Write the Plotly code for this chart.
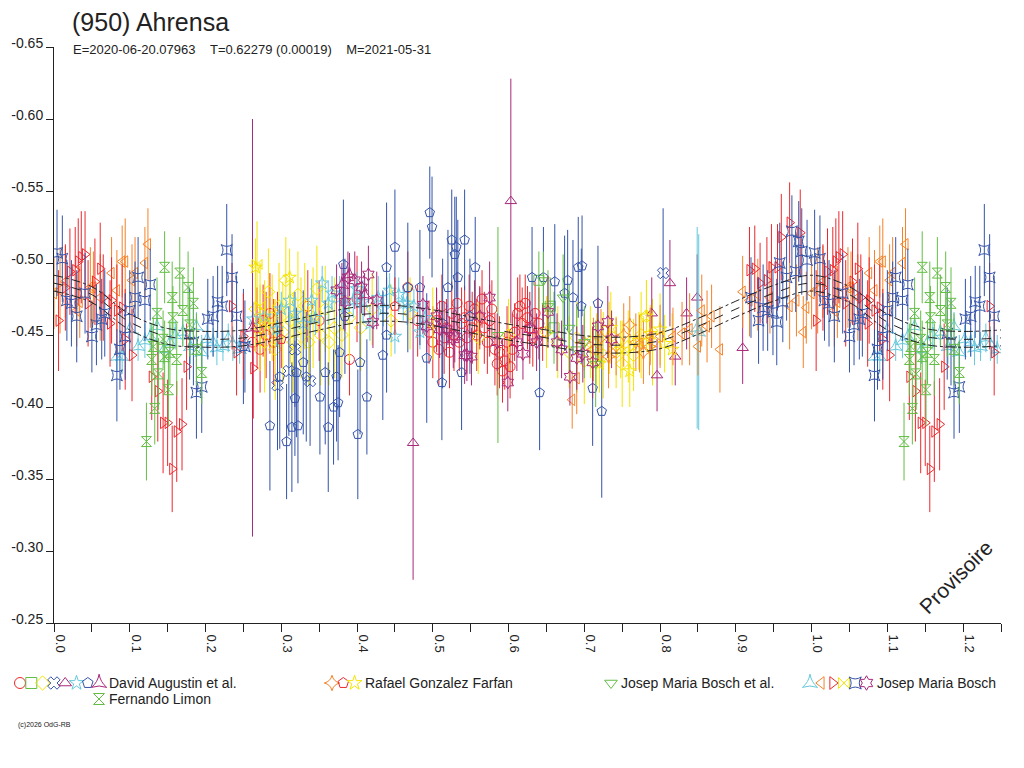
import plotly.graph_objects as go

RED = '#eb282d'
GREEN = '#64be46'
YELLOW = '#f5e400'
BLUE = '#3453a8'
PURPLE = '#a8287a'
CYAN = '#66c8dc'
ORANGE = '#f58228'
INK = '#222222'
FONT = 'Liberation Sans, Arial, sans-serif'

# fitted curve
curve_phase = [0.00, 0.05, 0.10, 0.15, 0.20, 0.25, 0.30, 0.35, 0.40, 0.45, 0.50, 0.55, 0.60,
               0.65, 0.70, 0.75, 0.80, 0.85, 0.90, 0.95, 1.00, 1.05, 1.10, 1.15, 1.20, 1.25]
curve_mid = [-0.486, -0.478, -0.459, -0.449, -0.447, -0.448, -0.453, -0.459, -0.464, -0.465, -0.462,
             -0.457, -0.452, -0.448, -0.444, -0.443, -0.446, -0.456, -0.468, -0.479, -0.486, -0.478,
             -0.459, -0.449, -0.447, -0.448]
curve_hi = [-0.4915, -0.4835, -0.4645, -0.4545, -0.4525, -0.4535, -0.4585, -0.4645, -0.4695, -0.4705,
            -0.4675, -0.4625, -0.4575, -0.4535, -0.4495, -0.4485, -0.4515, -0.4615, -0.4735, -0.4845,
            -0.4915, -0.4835, -0.4645, -0.4545, -0.4525, -0.4535]
curve_lo = [-0.4805, -0.4725, -0.4535, -0.4435, -0.4415, -0.4425, -0.4475, -0.4535, -0.4585, -0.4595,
            -0.4565, -0.4515, -0.4465, -0.4425, -0.4385, -0.4375, -0.4405, -0.4505, -0.4625, -0.4735,
            -0.4805, -0.4725, -0.4535, -0.4435, -0.4415, -0.4425]

# ---- David Augustin et al.
da_red_ph = [0.262, 0.268, 0.272, 0.276, 0.280, 0.285, 0.290, 0.295, 0.335, 0.350, 0.390, 0.400, 0.467,
             0.480, 0.495, 0.500, 0.505, 0.508, 0.512, 0.515, 0.518, 0.522, 0.525, 0.528, 0.532, 0.535,
             0.538, 0.542, 0.545, 0.548, 0.552, 0.555, 0.558, 0.562, 0.565, 0.568, 0.572, 0.575, 0.578,
             0.582, 0.585, 0.588, 0.592, 0.595, 0.598, 0.602, 0.605, 0.608, 0.612, 0.615, 0.618, 0.622,
             0.625, 0.628, 0.632, 0.635, 0.640, 0.645]
da_red_mag = [-0.445, -0.455, -0.440, -0.460, -0.450, -0.465, -0.445, -0.455, -0.470, -0.460, -0.433,
              -0.475, -0.483, -0.460, -0.452, -0.445, -0.460, -0.440, -0.470, -0.448, -0.455, -0.438,
              -0.465, -0.450, -0.472, -0.445, -0.458, -0.462, -0.448, -0.470, -0.455, -0.468, -0.450,
              -0.462, -0.475, -0.455, -0.445, -0.460, -0.468, -0.440, -0.430, -0.438, -0.425, -0.432,
              -0.445, -0.428, -0.440, -0.452, -0.465, -0.470, -0.458, -0.472, -0.462, -0.455, -0.448,
              -0.465, -0.458, -0.452]
da_red_err = [0.03, 0.028, 0.03, 0.025, 0.03, 0.028, 0.03, 0.025, 0.025, 0.028, 0.025, 0.03, 0.025,
              0.025, 0.022, 0.025, 0.022, 0.025, 0.022, 0.025, 0.02, 0.025, 0.022, 0.025, 0.022, 0.02,
              0.025, 0.022, 0.025, 0.022, 0.025, 0.02, 0.025, 0.022, 0.02, 0.025, 0.022, 0.025, 0.02,
              0.025, 0.022, 0.025, 0.022, 0.02, 0.025, 0.022, 0.025, 0.02, 0.025, 0.022, 0.025, 0.02,
              0.022, 0.025, 0.02, 0.022, 0.025, 0.02]

da_green_ph = [0.640, 0.655, 0.660]
da_green_mag = [-0.488, -0.470, -0.455]
da_green_err = [0.02, 0.02, 0.025]

da_yellow_ph = [0.266, 0.272, 0.278, 0.283, 0.288, 0.292, 0.297, 0.302, 0.306, 0.312, 0.316, 0.322,
                0.326, 0.331, 0.336, 0.342, 0.347, 0.352, 0.358, 0.363, 0.370, 0.380, 0.390, 0.405,
                0.420, 0.445, 0.470, 0.500, 0.560, 0.600, 0.650, 0.665, 0.680, 0.690, 0.700, 0.708,
                0.716, 0.725, 0.733, 0.742, 0.750, 0.758, 0.765, 0.775, 0.782, 0.790]
da_yellow_mag = [-0.468, -0.455, -0.445, -0.480, -0.462, -0.440, -0.470, -0.452, -0.488, -0.460, -0.445,
                 -0.478, -0.455, -0.470, -0.445, -0.462, -0.482, -0.450, -0.468, -0.445, -0.455, -0.450,
                 -0.462, -0.455, -0.468, -0.460, -0.465, -0.458, -0.448, -0.450, -0.452, -0.445, -0.438,
                 -0.448, -0.432, -0.445, -0.440, -0.436, -0.448, -0.438, -0.430, -0.442, -0.436, -0.450,
                 -0.463, -0.445]
da_yellow_err = [0.03, 0.03, 0.035, 0.03, 0.03, 0.035, 0.03, 0.035, 0.03, 0.03, 0.035, 0.03, 0.035,
                 0.03, 0.03, 0.035, 0.03, 0.035, 0.03, 0.03, 0.035, 0.03, 0.03, 0.03, 0.025, 0.025,
                 0.025, 0.025, 0.025, 0.025, 0.025, 0.025, 0.025, 0.025, 0.03, 0.025, 0.025, 0.03,
                 0.025, 0.025, 0.03, 0.025, 0.025, 0.03, 0.025, 0.03]

da_bluex_ph = [0.295, 0.310, 0.318, 0.338, 0.804]
da_bluex_mag = [-0.415, -0.425, -0.440, -0.418, -0.493]
da_bluex_err = [0.045, 0.045, 0.04, 0.045, 0.045]

da_tri_ph = [0.474, 0.603, 0.789, 0.796, 0.813, 0.820, 0.835, 0.849, 0.909]
da_tri_mag = [-0.375, -0.543, -0.465, -0.422, -0.486, -0.435, -0.465, -0.476, -0.441]
da_tri_err = [0.095, 0.085, 0.025, 0.025, 0.03, 0.02, 0.025, 0.03, 0.025]

da_cyan_ph = [0.263, 0.278, 0.294, 0.300, 0.311, 0.318, 0.329, 0.340, 0.345, 0.354, 0.362, 0.367,
              0.377, 0.385, 0.395, 0.400, 0.408, 0.417, 0.428, 0.435, 0.443, 0.450, 0.455, 0.461,
              0.466, 0.475, 0.483, 0.490]
da_cyan_mag = [-0.461, -0.463, -0.454, -0.468, -0.474, -0.465, -0.458, -0.474, -0.462, -0.486, -0.472,
               -0.479, -0.476, -0.470, -0.474, -0.482, -0.473, -0.458, -0.476, -0.468, -0.481, -0.449,
               -0.478, -0.472, -0.472, -0.470, -0.452, -0.462]
da_cyan_err = [0.012, 0.012, 0.012, 0.012, 0.015, 0.012, 0.012, 0.015, 0.012, 0.012, 0.015, 0.012,
               0.015, 0.012, 0.012, 0.012, 0.015, 0.012, 0.015, 0.012, 0.012, 0.012, 0.012, 0.012,
               0.015, 0.012, 0.012, 0.012]

da_pent_ph = [0.250, 0.285, 0.298, 0.307, 0.314, 0.318, 0.320, 0.322, 0.329, 0.333, 0.351, 0.358,
              0.362, 0.369, 0.373, 0.375, 0.377, 0.382, 0.384, 0.401, 0.404, 0.413, 0.434, 0.439,
              0.439, 0.450, 0.467, 0.483, 0.492, 0.496, 0.499, 0.512, 0.513, 0.520, 0.525, 0.529,
              0.531, 0.533, 0.538, 0.542, 0.549, 0.556, 0.631, 0.641, 0.646, 0.661, 0.674, 0.678,
              0.685, 0.692, 0.696, 0.697, 0.711, 0.718, 0.723]
da_pent_mag = [-0.442, -0.387, -0.421, -0.376, -0.386, -0.406, -0.424, -0.387, -0.431, -0.421, -0.407,
               -0.424, -0.386, -0.400, -0.421, -0.403, -0.438, -0.499, -0.463, -0.381, -0.431, -0.407,
               -0.436, -0.450, -0.497, -0.511, -0.483, -0.483, -0.434, -0.535, -0.525, -0.417, -0.458,
               -0.483, -0.516, -0.506, -0.511, -0.490, -0.424, -0.516, -0.463, -0.497, -0.490, -0.410,
               -0.490, -0.487, -0.479, -0.488, -0.476, -0.497, -0.470, -0.498, -0.413, -0.472, -0.397]
da_pent_err = [0.04, 0.045, 0.05, 0.04, 0.045, 0.04, 0.045, 0.04, 0.05, 0.045, 0.04, 0.05, 0.045,
               0.04, 0.045, 0.04, 0.045, 0.045, 0.04, 0.045, 0.05, 0.04, 0.045, 0.04, 0.045, 0.04,
               0.045, 0.04, 0.045, 0.032, 0.035, 0.04, 0.045, 0.04, 0.035, 0.04, 0.035, 0.04, 0.04,
               0.035, 0.04, 0.035, 0.035, 0.04, 0.035, 0.04, 0.04, 0.035, 0.04, 0.035, 0.04, 0.035,
               0.04, 0.04, 0.06]

da_tree_ph = [0.262, 0.380, 0.390, 0.410]
da_tree_mag = [-0.455, -0.485, -0.492, -0.478]
da_tree_err = [0.145, 0.015, 0.015, 0.015]

# ---- Fernando Limon
fl_ph = [0.122, 0.129, 0.131, 0.133, 0.136, 0.138, 0.144, 0.146, 0.146, 0.151, 0.153, 0.156, 0.157,
         0.162, 0.166, 0.170, 0.177, 0.179, 0.184, 0.188, 0.195]
fl_mag = [-0.376, -0.433, -0.442, -0.399, -0.465, -0.423, -0.447, -0.435, -0.497, -0.412, -0.438,
          -0.476, -0.462, -0.433, -0.493, -0.467, -0.483, -0.457, -0.472, -0.440, -0.424]
fl_err = [0.027, 0.025, 0.02, 0.025, 0.025, 0.025, 0.02, 0.025, 0.025, 0.025, 0.022, 0.025, 0.022,
          0.025, 0.025, 0.025, 0.025, 0.022, 0.025, 0.025, 0.022]

# ---- Rafael Gonzalez Farfan
rg_orange_ph = [0.700, 0.712, 0.722, 0.732, 0.742, 0.752, 0.760, 0.768, 0.778, 0.786]
rg_orange_mag = [-0.445, -0.440, -0.448, -0.435, -0.442, -0.450, -0.457, -0.445, -0.438, -0.442]
rg_orange_err = [0.02, 0.022, 0.02, 0.022, 0.02, 0.022, 0.02, 0.02, 0.022, 0.02]

rg_red_ph = [0.300, 0.450]
rg_red_mag = [-0.447, -0.470]
rg_red_err = [0.02, 0.02]

rg_yellow_ph = [0.266, 0.311, 0.720, 0.735, 0.748, 0.760, 0.772, 0.782, 0.787, 0.800, 0.806, 0.816]
rg_yellow_mag = [-0.497, -0.490, -0.430, -0.455, -0.440, -0.425, -0.446, -0.463, -0.451, -0.454,
                 -0.444, -0.440]
rg_yellow_err = [0.02, 0.02, 0.02, 0.025, 0.02, 0.025, 0.02, 0.025, 0.02, 0.025, 0.02, 0.025]

# ---- Josep Maria Bosch et al.
jbe_ph = [0.586, 0.646, 0.652, 0.672, 0.680, 0.690, 0.700, 0.715]
jbe_mag = [-0.450, -0.488, -0.470, -0.476, -0.455, -0.440, -0.445, -0.430]
jbe_err = [0.075, 0.02, 0.025, 0.03, 0.03, 0.03, 0.025, 0.03]

# ---- Josep Maria Bosch
jb_cyan_ph = [0.083, 0.090, 0.100, 0.111, 0.120, 0.127, 0.136, 0.145, 0.153, 0.160, 0.170, 0.180,
              0.188, 0.195, 0.202, 0.210, 0.215, 0.223, 0.230, 0.236, 0.245, 0.250, 0.849, 0.851]
jb_cyan_mag = [-0.435, -0.435, -0.454, -0.442, -0.446, -0.449, -0.456, -0.440, -0.445, -0.450, -0.452,
               -0.442, -0.456, -0.438, -0.447, -0.445, -0.441, -0.442, -0.448, -0.444, -0.440, -0.447,
               -0.455, -0.452]
jb_cyan_err = [0.01, 0.012, 0.01, 0.01, 0.012, 0.01, 0.012, 0.01, 0.012, 0.01, 0.01, 0.012, 0.01,
               0.012, 0.01, 0.01, 0.012, 0.01, 0.01, 0.012, 0.01, 0.012, 0.07, 0.068]

jb_orange_ph = [0.684, 0.690, 0.773, 0.787, 0.800, 0.817, 0.829, 0.839, 0.850, 0.855, 0.862, 0.868,
                0.879, 0.909, 0.918, 0.929, 0.945, 0.971, 0.980, 0.989, 0.993, 0.000, 0.008, 0.015,
                0.030, 0.034, 0.048, 0.052, 0.061, 0.076, 0.083, 0.090, 0.094, 0.103, 0.107, 0.120,
                0.124]
jb_orange_mag = [-0.405, -0.420, -0.444, -0.449, -0.449, -0.449, -0.451, -0.454, -0.442, -0.467, -0.456,
                 -0.463, -0.440, -0.480, -0.474, -0.478, -0.476, -0.470, -0.474, -0.452, -0.469, -0.479,
                 -0.481, -0.487, -0.467, -0.473, -0.483, -0.483, -0.476, -0.493, -0.481, -0.501, -0.501,
                 -0.488, -0.493, -0.500, -0.513]
jb_orange_err = [0.02, 0.025, 0.02, 0.02, 0.022, 0.02, 0.022, 0.025, 0.02, 0.025, 0.025, 0.022, 0.03,
                 0.025, 0.025, 0.025, 0.025, 0.03, 0.025, 0.025, 0.025, 0.025, 0.03, 0.025, 0.025,
                 0.025, 0.028, 0.025, 0.03, 0.025, 0.028, 0.025, 0.03, 0.025, 0.025, 0.025, 0.025]

jb_red_ph = [0.918, 0.925, 0.932, 0.941, 0.947, 0.955, 0.960, 0.971, 0.985, 0.006, 0.015, 0.021,
             0.028, 0.032, 0.036, 0.041, 0.045, 0.054, 0.061, 0.065, 0.074, 0.076, 0.083, 0.090,
             0.094, 0.103, 0.129, 0.137, 0.144, 0.150, 0.156, 0.162, 0.169, 0.175, 0.235, 0.241,
             0.250, 0.263]
jb_red_mag = [-0.495, -0.496, -0.486, -0.488, -0.497, -0.497, -0.518, -0.528, -0.521, -0.460, -0.483,
              -0.494, -0.495, -0.501, -0.504, -0.506, -0.472, -0.487, -0.496, -0.476, -0.458, -0.474,
              -0.467, -0.469, -0.447, -0.436, -0.421, -0.411, -0.389, -0.389, -0.357, -0.383, -0.388,
              -0.428, -0.470, -0.438, -0.449, -0.427]
jb_red_err = [0.03, 0.03, 0.028, 0.03, 0.03, 0.03, 0.03, 0.028, 0.03, 0.035, 0.03, 0.03, 0.03, 0.03,
              0.032, 0.03, 0.03, 0.03, 0.032, 0.03, 0.03, 0.03, 0.032, 0.03, 0.035, 0.032, 0.03, 0.035,
              0.035, 0.03, 0.03, 0.035, 0.032, 0.03, 0.03, 0.03, 0.03, 0.035]

jb_yellow_ph = [0.268, 0.272, 0.278]
jb_yellow_mag = [-0.499, -0.470, -0.458]
jb_yellow_err = [0.03, 0.03, 0.03]

jb_blue_ph = [0.920, 0.930, 0.936, 0.942, 0.949, 0.954, 0.958, 0.962, 0.967, 0.974, 0.979, 0.983,
              0.987, 0.994, 0.004, 0.011, 0.017, 0.023, 0.030, 0.041, 0.050, 0.056, 0.063, 0.067,
              0.083, 0.087, 0.094, 0.100, 0.107, 0.111, 0.120, 0.127, 0.179, 0.184, 0.188, 0.195,
              0.203, 0.210, 0.216, 0.222, 0.228, 0.235, 0.241, 0.252]
jb_blue_mag = [-0.476, -0.460, -0.469, -0.467, -0.466, -0.459, -0.500, -0.473, -0.490, -0.522, -0.494,
               -0.515, -0.508, -0.502, -0.507, -0.503, -0.474, -0.472, -0.463, -0.479, -0.449, -0.457,
               -0.461, -0.465, -0.422, -0.440, -0.449, -0.467, -0.476, -0.490, -0.474, -0.485, -0.451,
               -0.445, -0.410, -0.414, -0.461, -0.463, -0.473, -0.470, -0.509, -0.490, -0.463, -0.442]
jb_blue_err = [0.028, 0.03, 0.03, 0.028, 0.03, 0.03, 0.028, 0.028, 0.03, 0.025, 0.028, 0.028, 0.03,
               0.028, 0.03, 0.03, 0.028, 0.03, 0.032, 0.028, 0.025, 0.028, 0.028, 0.03, 0.032, 0.028,
               0.03, 0.028, 0.025, 0.028, 0.028, 0.025, 0.032, 0.03, 0.032, 0.032, 0.028, 0.028, 0.025,
               0.028, 0.032, 0.03, 0.028, 0.032]

jb_purple_ph = [0.373, 0.384, 0.388, 0.397, 0.406, 0.415, 0.421, 0.426, 0.487, 0.492, 0.505, 0.509,
                0.518, 0.527, 0.529, 0.542, 0.545, 0.551, 0.562, 0.575, 0.585, 0.599, 0.611, 0.619,
                0.628, 0.637, 0.652, 0.664, 0.670, 0.681, 0.690, 0.698, 0.711, 0.718, 0.731, 0.736]
jb_purple_mag = [-0.481, -0.473, -0.490, -0.488, -0.483, -0.492, -0.459, -0.474, -0.471, -0.456, -0.463,
                 -0.454, -0.454, -0.447, -0.449, -0.436, -0.436, -0.435, -0.463, -0.476, -0.445, -0.417,
                 -0.445, -0.437, -0.454, -0.445, -0.466, -0.445, -0.440, -0.421, -0.434, -0.437, -0.431,
                 -0.456, -0.459, -0.447]
jb_purple_err = [0.018, 0.02, 0.018, 0.02, 0.018, 0.02, 0.018, 0.02, 0.02, 0.018, 0.02, 0.02, 0.018,
                 0.02, 0.018, 0.02, 0.018, 0.02, 0.02, 0.025, 0.02, 0.02, 0.02, 0.018, 0.02, 0.02,
                 0.025, 0.02, 0.02, 0.02, 0.022, 0.02, 0.025, 0.02, 0.025, 0.02]

series = [
    ('circle-open', RED, da_red_ph, da_red_mag, da_red_err),
    ('square-open', GREEN, da_green_ph, da_green_mag, da_green_err),
    ('diamond-open', YELLOW, da_yellow_ph, da_yellow_mag, da_yellow_err),
    ('x-open', BLUE, da_bluex_ph, da_bluex_mag, da_bluex_err),
    ('triangle-up-open', PURPLE, da_tri_ph, da_tri_mag, da_tri_err),
    ('star-open', CYAN, da_cyan_ph, da_cyan_mag, da_cyan_err),
    ('pentagon-open', BLUE, da_pent_ph, da_pent_mag, da_pent_err),
    ('star-triangle-up-open', PURPLE, da_tree_ph, da_tree_mag, da_tree_err),
    ('star-diamond-open', ORANGE, rg_orange_ph, rg_orange_mag, rg_orange_err),
    ('pentagon-open', RED, rg_red_ph, rg_red_mag, rg_red_err),
    ('star-open', YELLOW, rg_yellow_ph, rg_yellow_mag, rg_yellow_err),
    ('triangle-down-open', GREEN, jbe_ph, jbe_mag, jbe_err),
    ('star-triangle-up-open', CYAN, jb_cyan_ph, jb_cyan_mag, jb_cyan_err),
    ('triangle-left-open', ORANGE, jb_orange_ph, jb_orange_mag, jb_orange_err),
    ('triangle-right-open', RED, jb_red_ph, jb_red_mag, jb_red_err),
    ('bowtie-open', YELLOW, jb_yellow_ph, jb_yellow_mag, jb_yellow_err),
    ('star-square-open', BLUE, jb_blue_ph, jb_blue_mag, jb_blue_err),
    ('hexagram-open', PURPLE, jb_purple_ph, jb_purple_mag, jb_purple_err),
    ('hourglass-open', GREEN, fl_ph, fl_mag, fl_err),
]


def wrap(ph, mag, err):
    # phases below 0.25 are shown a second time after 1.0
    xs, ys, es = list(ph), list(mag), list(err)
    for p, m, e in zip(ph, mag, err):
        if p < 0.25:
            xs.append(p + 1)
            ys.append(m)
            es.append(e)
    return xs, ys, es


# page geometry: the page body adds an 8 px offset, so the figure is 8 px smaller
OFF = 8
W, H = 1024 - OFF, 768 - OFF
PL, PR, PT, PB = 54, 1001, 47, 623   # plot box in screen pixels

fig = go.Figure()

for sym, col, ph, mag, err in series:
    xs, ys, es = wrap(ph, mag, err)
    fig.add_trace(go.Scatter(x=xs, y=ys, mode='markers', showlegend=False,
                             marker=dict(symbol=sym, color=col, size=10, line=dict(width=1, color=col)),
                             error_y=dict(type='data', array=es, color=col, thickness=1, width=0)))

fig.add_trace(go.Scatter(x=curve_phase, y=curve_mid, mode='lines', showlegend=False,
                         line=dict(color=INK, width=1, dash='dash', shape='spline')))
for band in (curve_hi, curve_lo):
    fig.add_trace(go.Scatter(x=curve_phase, y=band, mode='lines', showlegend=False,
                             line=dict(color=INK, width=1, dash='dashdot', shape='spline')))

# legend drawn by hand on a full-page pixel overlay (x2/y2)
legend_rows = [
    (20, 683, [('circle-open', RED), ('square-open', GREEN), ('diamond-open', YELLOW), ('x-open', BLUE),
               ('triangle-up-open', PURPLE), ('star-open', CYAN), ('pentagon-open', BLUE),
               ('star-triangle-up-open', PURPLE)], 'David Augustin et al.'),
    (99, 699, [('hourglass-open', GREEN)], 'Fernando Limon'),
    (332, 683, [('star-diamond-open', ORANGE), ('pentagon-open', RED), ('star-open', YELLOW)],
     'Rafael Gonzalez Farfan'),
    (611, 683, [('triangle-down-open', GREEN)], 'Josep Maria Bosch et al.'),
    (810, 683, [('star-triangle-up-open', CYAN), ('triangle-left-open', ORANGE), ('triangle-right-open', RED),
                ('bowtie-open', YELLOW), ('star-square-open', BLUE), ('hexagram-open', PURPLE)],
     'Josep Maria Bosch'),
]
annotations = []
for x0, y0, syms, label in legend_rows:
    lx = [x0 + 11.3 * i for i in range(len(syms))]
    cols = [c for s, c in syms]
    fig.add_trace(go.Scatter(x=lx, y=[y0] * len(syms), xaxis='x2', yaxis='y2', mode='markers',
                             showlegend=False, hoverinfo='skip',
                             marker=dict(symbol=[s for s, c in syms], color=cols, size=11,
                                         line=dict(width=1, color=cols))))
    annotations.append(dict(x=lx[-1] + 8, y=y0, xref='x2', yref='y2', text=label, showarrow=False,
                            xanchor='left', yanchor='middle', font=dict(size=14, color=INK, family=FONT)))

annotations += [
    dict(x=70, y=22, xref='x2', yref='y2', text='(950) Ahrensa', showarrow=False, xanchor='left',
         yanchor='middle', font=dict(size=25, color=INK, family=FONT)),
    dict(x=71, y=49, xref='x2', yref='y2',
         text='E=2020-06-20.07963&nbsp;&nbsp;&nbsp;&nbsp;T=0.62279 (0.00019)&nbsp;&nbsp;&nbsp;&nbsp;M=2021-05-31',
         showarrow=False, xanchor='left', yanchor='middle', font=dict(size=13, color=INK, family=FONT)),
    dict(x=955, y=577, xref='x2', yref='y2', text='Provisoire', showarrow=False, textangle=-45,
         font=dict(size=21, color=INK, family=FONT)),
    dict(x=16, y=725, xref='x2', yref='y2', text='(c)2026 OdG-RB', showarrow=False, xanchor='left',
         yanchor='middle', font=dict(size=7, color=INK, family=FONT)),
]

xticks = [i * 0.05 for i in range(26)]
yticks = [-0.65, -0.60, -0.55, -0.50, -0.45, -0.40, -0.35, -0.30, -0.25]
fig.update_layout(
    width=W, height=H,
    margin=dict(l=0, r=0, t=0, b=0, pad=0),
    paper_bgcolor='white', plot_bgcolor='rgba(0,0,0,0)',
    font=dict(family=FONT, color=INK),
    xaxis=dict(domain=[(PL - OFF) / W, (PR - OFF) / W], anchor='y', automargin=False,
               range=[0, 1.25], showgrid=False, zeroline=False, showline=True, linecolor=INK,
               ticks='outside', ticklen=8, tickcolor=INK, tickvals=xticks,
               ticktext=['%.1f' % v if i % 2 == 0 else '' for i, v in enumerate(xticks)],
               tickangle=90, ticklabelshift=6, tickfont=dict(size=13, family=FONT, color=INK)),
    yaxis=dict(domain=[1 - (PB - OFF) / H, 1 - (PT - OFF) / H], anchor='x', automargin=False,
               range=[-0.25, -0.65], showgrid=False, zeroline=False, showline=True, linecolor=INK,
               ticks='outside', ticklen=7, tickcolor=INK, tickvals=yticks,
               ticktext=['%.2f' % v for v in yticks], ticklabelshift=4,
               tickfont=dict(size=14, family=FONT, color=INK)),
    xaxis2=dict(domain=[0, 1], anchor='y2', range=[OFF, 1024], visible=False, automargin=False),
    yaxis2=dict(domain=[0, 1], anchor='x2', range=[768, OFF], visible=False, automargin=False),
    annotations=annotations,
)

fig.write_html('out.html')
